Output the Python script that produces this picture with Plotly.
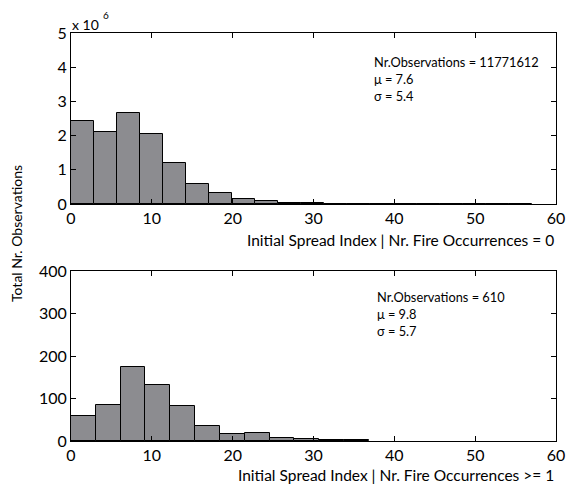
import numpy as np
import plotly.graph_objects as go

# ---- data ----
top_bin_width = 2.85
top_counts = [2.44e6, 2.11e6, 2.65e6, 2.06e6, 1.20e6, 0.59e6, 0.33e6, 0.16e6,
              0.075e6, 0.03e6, 0.015e6, 0.006e6, 0.003e6, 0.001e6, 0.0005e6,
              0.0002e6, 0.0001e6, 0, 0, 0]
bot_bin_width = 3.07
bot_counts = [60, 84, 173, 131, 82, 35, 17, 19, 7, 5, 2, 2]

x_ticks = [0, 10, 20, 30, 40, 50, 60]
top_y_ticks = [0, 1, 2, 3, 4, 5]
bot_y_ticks = [0, 100, 200, 300, 400]

top_stats = ["Nr.Observations = 11771612", "μ = 7.6", "σ = 5.4"]
bot_stats = ["Nr.Observations = 610", "μ = 9.8", "σ = 5.7"]
top_xlabel = "Initial Spread Index | Nr. Fire Occurrences = 0"
bot_xlabel = "Initial Spread Index | Nr. Fire Occurrences >= 1"
ylabel = "Total Nr. Observations"

FONT = "Lato"
BAR = "#8c8c90"

W, H = 566, 486
def px(x):
    return x / W
def py(y):
    return 1 - y / H

fig = go.Figure()

top_centers = (np.arange(len(top_counts)) + 0.5) * top_bin_width
bot_centers = (np.arange(len(bot_counts)) + 0.5) * bot_bin_width

fig.add_trace(go.Bar(x=top_centers, y=np.array(top_counts) / 1e6, width=top_bin_width,
                     marker=dict(color=BAR, line=dict(color="black", width=1)),
                     xaxis="x", yaxis="y", showlegend=False))
fig.add_trace(go.Bar(x=bot_centers, y=bot_counts, width=bot_bin_width,
                     marker=dict(color=BAR, line=dict(color="black", width=1)),
                     xaxis="x2", yaxis="y2", showlegend=False))

axis_common = dict(showline=True, linecolor="black", linewidth=1, mirror="ticks",
                   ticks="inside", ticklen=5, tickcolor="black", showgrid=False,
                   zeroline=False, automargin=False,
                   tickfont=dict(family=FONT, size=16, color="black"))

x0, x1 = px(71), px(556)
fig.update_layout(
    width=W, height=H, margin=dict(l=0, r=0, t=0, b=0, pad=0),
    paper_bgcolor="white", plot_bgcolor="white", bargap=0,
    font=dict(family=FONT, color="black"),
    xaxis=dict(domain=[x0, x1], range=[0, 60], tickvals=x_ticks, anchor="y", **axis_common),
    yaxis=dict(domain=[py(204), py(33)], range=[0, 5], tickvals=top_y_ticks, anchor="x", **axis_common),
    xaxis2=dict(domain=[x0, x1], range=[0, 60], tickvals=x_ticks, anchor="y2", **axis_common),
    yaxis2=dict(domain=[py(441), py(271)], range=[0, 400], tickvals=bot_y_ticks, anchor="x2", **axis_common),
)

ann = []
# x labels (right aligned)
ann.append(dict(x=px(556), y=py(240), xref="paper", yref="paper", text=top_xlabel,
                showarrow=False, xanchor="right", yanchor="middle", font=dict(size=15.5, family=FONT)))
ann.append(dict(x=px(556), y=py(475), xref="paper", yref="paper", text=bot_xlabel,
                showarrow=False, xanchor="right", yanchor="middle", font=dict(size=15.5, family=FONT)))
# y label
ann.append(dict(x=px(17), y=py(234), xref="paper", yref="paper", text=ylabel, textangle=-90,
                showarrow=False, xanchor="center", yanchor="middle", font=dict(size=14, family=FONT)))
# exponent
ann.append(dict(x=px(70), y=py(24), xref="paper", yref="paper", text="x 10",
                showarrow=False, xanchor="left", yanchor="middle", font=dict(size=14, family=FONT)))
ann.append(dict(x=px(101), y=py(15), xref="paper", yref="paper", text="6",
                showarrow=False, xanchor="left", yanchor="middle", font=dict(size=10, family=FONT)))
# stats
for i, t in enumerate(top_stats):
    ann.append(dict(x=px(372), y=py(62 + 17 * i), xref="paper", yref="paper", text=t,
                    showarrow=False, xanchor="left", yanchor="middle", font=dict(size=12.8, family=FONT)))
for i, t in enumerate(bot_stats):
    ann.append(dict(x=px(375), y=py(297 + 17 * i), xref="paper", yref="paper", text=t,
                    showarrow=False, xanchor="left", yanchor="middle", font=dict(size=12.8, family=FONT)))
fig.update_layout(annotations=ann)

fig.write_html("out.html")
